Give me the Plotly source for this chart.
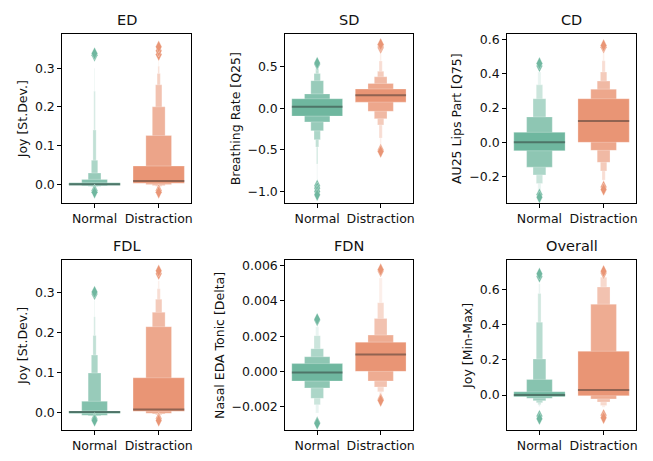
import plotly.graph_objects as go

CATEGORIES = ["Normal", "Distraction"]
PANEL_TITLES = ["ED", "SD", "CD", "FDL", "FDN", "Overall"]
Y_LABELS = ["Joy [St.Dev.]", "Breathing Rate [Q25]", "AU25 Lips Part [Q75]",
            "Joy [St.Dev.]", "Nasal EDA Tonic [Delta]", "Joy [Min-Max]"]

# Letter values per box, innermost level first (lower / upper bounds), medians, outliers
ED_NORMAL_LO = [-0.003, -0.004, -0.005, -0.006, -0.008, -0.010, -0.012]
ED_NORMAL_HI = [0.004, 0.0125, 0.029, 0.062, 0.14, 0.24, 0.30]
ED_NORMAL_MED = 0.0
ED_NORMAL_OUT = [0.333, 0.338, -0.016, -0.021]
ED_DISTR_LO = [0.0025, -0.001, -0.003, -0.005, -0.007, -0.009, -0.011]
ED_DISTR_HI = [0.047, 0.126, 0.200, 0.257, 0.286, 0.305, 0.322]
ED_DISTR_MED = 0.0085
ED_DISTR_OUT = [0.335, 0.345, 0.355, -0.016, -0.021]

SD_NORMAL_LO = [-0.093, -0.163, -0.27, -0.376, -0.465, -0.67, -0.86]
SD_NORMAL_HI = [0.116, 0.174, 0.333, 0.42, 0.48, 0.50, 0.51]
SD_NORMAL_MED = 0.02
SD_NORMAL_OUT = [0.53, 0.545, -0.93, -0.96, -1.0, -1.04]
SD_DISTR_LO = [0.075, -0.035, -0.124, -0.20, -0.357, -0.45]
SD_DISTR_HI = [0.233, 0.30, 0.38, 0.445, 0.57, 0.66]
SD_DISTR_MED = 0.158
SD_DISTR_OUT = [0.73, 0.75, 0.77, -0.5, -0.52]

CD_NORMAL_LO = [-0.049, -0.145, -0.19, -0.24, -0.285]
CD_NORMAL_HI = [0.058, 0.148, 0.254, 0.335, 0.41]
CD_NORMAL_MED = 0.0
CD_NORMAL_OUT = [0.445, 0.46, -0.305, -0.32]
CD_DISTR_LO = [0.0, -0.047, -0.117, -0.167, -0.22, -0.24]
CD_DISTR_HI = [0.254, 0.31, 0.357, 0.41, 0.475, 0.53]
CD_DISTR_MED = 0.124
CD_DISTR_OUT = [0.555, 0.565, -0.26, -0.275]

FDL_NORMAL_LO = [-0.0025, -0.0066, -0.008, -0.009, -0.010, -0.011, -0.012]
FDL_NORMAL_HI = [0.004, 0.028, 0.099, 0.144, 0.193, 0.24, 0.28]
FDL_NORMAL_MED = 0.001
FDL_NORMAL_OUT = [0.297, 0.302, -0.016, -0.02]
FDL_DISTR_LO = [0.003, -0.002, -0.004, -0.006, -0.008, -0.010]
FDL_DISTR_HI = [0.087, 0.215, 0.251, 0.284, 0.31, 0.33]
FDL_DISTR_MED = 0.0075
FDL_DISTR_OUT = [0.348, 0.355, -0.015, -0.02]

FDN_NORMAL_LO = [-0.00055, -0.00094, -0.00153, -0.0019, -0.00236]
FDN_NORMAL_HI = [0.00044, 0.00083, 0.00129, 0.00203, 0.00253]
FDN_NORMAL_MED = -0.00006
FDN_NORMAL_OUT = [0.0029, 0.00296, -0.0029, -0.00296]
FDN_DISTR_LO = [0.0, -0.00055, -0.00089, -0.00116, -0.00135]
FDN_DISTR_HI = [0.00166, 0.00206, 0.003, 0.0039, 0.0053]
FDN_DISTR_MED = 0.00096
FDN_DISTR_OUT = [0.0057, 0.00578, -0.00158, -0.00166]

OV_NORMAL_LO = [-0.0095, -0.019, -0.032, -0.044, -0.055, -0.065]
OV_NORMAL_HI = [0.018, 0.089, 0.205, 0.415, 0.578, 0.633]
OV_NORMAL_MED = 0.0
OV_NORMAL_OUT = [0.675, 0.69, -0.12, -0.135]
OV_DISTR_LO = [-0.004, -0.022, -0.04, -0.06, -0.07]
OV_DISTR_HI = [0.249, 0.517, 0.615, 0.67, 0.69]
OV_DISTR_MED = 0.029
OV_DISTR_OUT = [0.695, 0.705, -0.115, -0.13]

Y_RANGES = [[-0.049, 0.3875], [-1.14, 0.891], [-0.355, 0.63],
            [-0.0447, 0.381], [-0.00335, 0.0063], [-0.201, 0.766]]
Y_TICKS = [[0.0, 0.1, 0.2, 0.3], [-1.0, -0.5, 0.0, 0.5], [-0.2, 0.0, 0.2, 0.4, 0.6],
           [0.0, 0.1, 0.2, 0.3], [-0.002, 0.0, 0.002, 0.004, 0.006], [0.0, 0.2, 0.4, 0.6]]
Y_FORMATS = [".1f", ".1f", ".1f", ".1f", ".3f", ".1f"]

PANELS = [
    [(ED_NORMAL_LO, ED_NORMAL_HI, ED_NORMAL_MED, ED_NORMAL_OUT), (ED_DISTR_LO, ED_DISTR_HI, ED_DISTR_MED, ED_DISTR_OUT)],
    [(SD_NORMAL_LO, SD_NORMAL_HI, SD_NORMAL_MED, SD_NORMAL_OUT), (SD_DISTR_LO, SD_DISTR_HI, SD_DISTR_MED, SD_DISTR_OUT)],
    [(CD_NORMAL_LO, CD_NORMAL_HI, CD_NORMAL_MED, CD_NORMAL_OUT), (CD_DISTR_LO, CD_DISTR_HI, CD_DISTR_MED, CD_DISTR_OUT)],
    [(FDL_NORMAL_LO, FDL_NORMAL_HI, FDL_NORMAL_MED, FDL_NORMAL_OUT), (FDL_DISTR_LO, FDL_DISTR_HI, FDL_DISTR_MED, FDL_DISTR_OUT)],
    [(FDN_NORMAL_LO, FDN_NORMAL_HI, FDN_NORMAL_MED, FDN_NORMAL_OUT), (FDN_DISTR_LO, FDN_DISTR_HI, FDN_DISTR_MED, FDN_DISTR_OUT)],
    [(OV_NORMAL_LO, OV_NORMAL_HI, OV_NORMAL_MED, OV_NORMAL_OUT), (OV_DISTR_LO, OV_DISTR_HI, OV_DISTR_MED, OV_DISTR_OUT)],
]

BASE_COLORS = [(111, 183, 159), (233, 149, 117)]
BOX_WIDTH = 0.8

# page body has an 8px margin, so the figure is drawn 8px in from the window corner
OFF = 8
W, H = 653 - 2 * OFF, 461 - 2 * OFF
COL_PX = [(62, 192), (285.7, 414.3), (508.3, 638.3)]
ROW_PX = [(33, 207), (266, 441)]


def level_color(base, t):
    light = [c + 0.85 * (255 - c) for c in base]
    rgb = [round(b + (l - b) * t) for b, l in zip(base, light)]
    return "rgb(%d,%d,%d)" % tuple(rgb)


fig = go.Figure()
FONT = "DejaVu Sans"
TICK_SIZE = 12.5
annotations = []

for p in range(6):
    r, c = divmod(p, 3)
    ax = "" if p == 0 else str(p + 1)
    xref, yref = "x" + ax, "y" + ax
    for g, (lo, hi, med, out) in enumerate(PANELS[p]):
        n = len(lo)
        base = BASE_COLORS[g]
        order = list(range(n - 1, -1, -1))  # outermost first, innermost on top
        fig.add_trace(go.Bar(
            x=[g] * n,
            base=[lo[i] for i in order],
            y=[hi[i] - lo[i] for i in order],
            width=[BOX_WIDTH * 0.5 ** i for i in order],
            marker=dict(color=[level_color(base, i / max(n - 1, 1)) for i in order],
                        line=dict(width=0.6, color="rgba(255,255,255,0.45)")),
            xaxis=xref, yaxis=yref, showlegend=False, hoverinfo="skip",
        ))
        fig.add_trace(go.Scatter(
            x=[g - BOX_WIDTH / 2, g + BOX_WIDTH / 2], y=[med, med], mode="lines",
            line=dict(color="rgba(38,38,38,0.45)", width=2),
            xaxis=xref, yaxis=yref, showlegend=False, hoverinfo="skip",
        ))
        fig.add_trace(go.Scatter(
            x=[g] * len(out), y=out, mode="markers",
            marker=dict(symbol="diamond-tall", size=9, color="rgb(%d,%d,%d)" % base,
                        line=dict(width=0.5, color="rgba(255,255,255,0.6)")),
            xaxis=xref, yaxis=yref, showlegend=False, hoverinfo="skip",
        ))

    x0, x1 = [v - OFF for v in COL_PX[c]]
    y0, y1 = [v - OFF for v in ROW_PX[r]]
    common = dict(showline=True, mirror=True, linecolor="black", linewidth=1,
                  ticks="outside", ticklen=3.5, tickwidth=0.8, tickcolor="black",
                  showgrid=False, zeroline=False,
                  tickfont=dict(family=FONT, size=TICK_SIZE, color="#111"))
    fig.update_layout(**{
        "xaxis" + ax: dict(domain=[x0 / W, x1 / W], range=[-0.51, 1.51],
                           tickvals=[0, 1], ticktext=CATEGORIES, anchor=yref, **common),
        "yaxis" + ax: dict(domain=[1 - y1 / H, 1 - y0 / H], range=Y_RANGES[p],
                           tickvals=Y_TICKS[p], tickformat=Y_FORMATS[p], anchor=xref,
                           title=dict(text=Y_LABELS[p], font=dict(family=FONT, size=TICK_SIZE, color="#111"),
                                      standoff=4),
                           **common),
    })
    annotations.append(dict(text=PANEL_TITLES[p], xref="paper", yref="paper",
                            x=(x0 + x1) / 2 / W, y=1 - y0 / H, yanchor="middle",
                            xanchor="center", yshift=14, showarrow=False,
                            font=dict(family=FONT, size=14.5, color="#111")))

fig.update_layout(width=W, height=H, margin=dict(l=0, r=0, t=0, b=0),
                  paper_bgcolor="white", plot_bgcolor="white", barmode="overlay",
                  annotations=annotations, font=dict(family=FONT))
fig.write_html("out.html")
